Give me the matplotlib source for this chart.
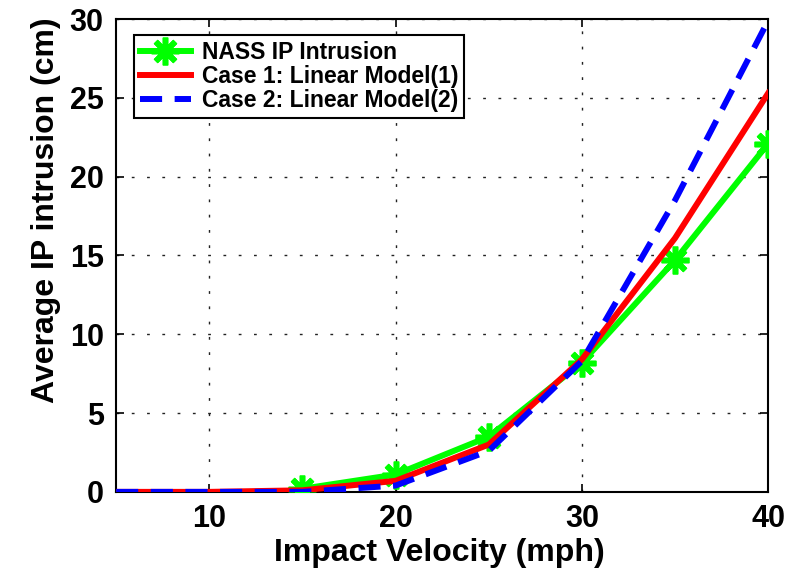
import matplotlib
matplotlib.use('Agg')
import matplotlib.pyplot as plt

# data
speed_nass = [15, 20, 25, 30, 35, 40]
ip_nass = [0.2, 1.1, 3.5, 8.2, 14.7, 22.1]
speed_model = [5, 10, 15, 20, 25, 30, 35, 40]
ip_case1 = [0, 0, 0.1, 0.7, 3.0, 8.4, 16.1, 25.3]
ip_case2 = [0, 0, 0.0, 0.4, 2.6, 8.3, 18.5, 29.9]

plt.rcParams['font.family'] = ['Liberation Sans', 'DejaVu Sans']

fig = plt.figure(figsize=(8.01, 5.78), dpi=100)
ax = fig.add_axes([0.145, 0.149, 0.814, 0.818])

ax.plot(speed_nass, ip_nass, color='#00ff00', lw=4.3, marker=(8, 2, 0),
        markersize=20, markeredgewidth=4, label='NASS IP Intrusion', zorder=3)
ax.plot(speed_model, ip_case1, color='#ff0000', lw=4.3, label='Case 1: Linear Model(1)', zorder=4)
ax.plot(speed_model, ip_case2, color='#0000ff', lw=4.3, dashes=(3.7, 2.1),
        label='Case 2: Linear Model(2)', zorder=5)

ax.set_xlim(5, 40)
ax.set_ylim(0, 30)
ax.set_xticks([10, 20, 30, 40])
ax.set_yticks(range(0, 31, 5))
ax.grid(True, color='#222222', linestyle=(0, (2, 9)), linewidth=1)
ax.tick_params(direction='in', length=6, width=1.2, top=True, right=True, labelsize=22)
ax.tick_params(axis='x', pad=9)
ax.tick_params(axis='y', pad=9)
for lab in ax.get_xticklabels() + ax.get_yticklabels():
    lab.set_fontweight('bold')
for s in ax.spines.values():
    s.set_linewidth(1.5)

ax.set_xlabel('Impact Velocity (mph)', fontsize=23, fontweight='bold')
ax.set_ylabel('Average IP intrusion (cm)', fontsize=23, fontweight='bold')
ax.xaxis.set_label_coords(0.495, -0.097)
ax.yaxis.set_label_coords(-0.085, 0.596)

leg = ax.legend(loc='upper left', bbox_to_anchor=(0.028, 0.966),
                prop={'weight': 'bold', 'size': 16.5}, fancybox=False, framealpha=1,
                edgecolor='black', handlelength=2.2, borderpad=0.25, labelspacing=0.05,
                handletextpad=0.5, borderaxespad=0)
leg.get_frame().set_linewidth(1.5)

fig.savefig('out.png', dpi=100)
